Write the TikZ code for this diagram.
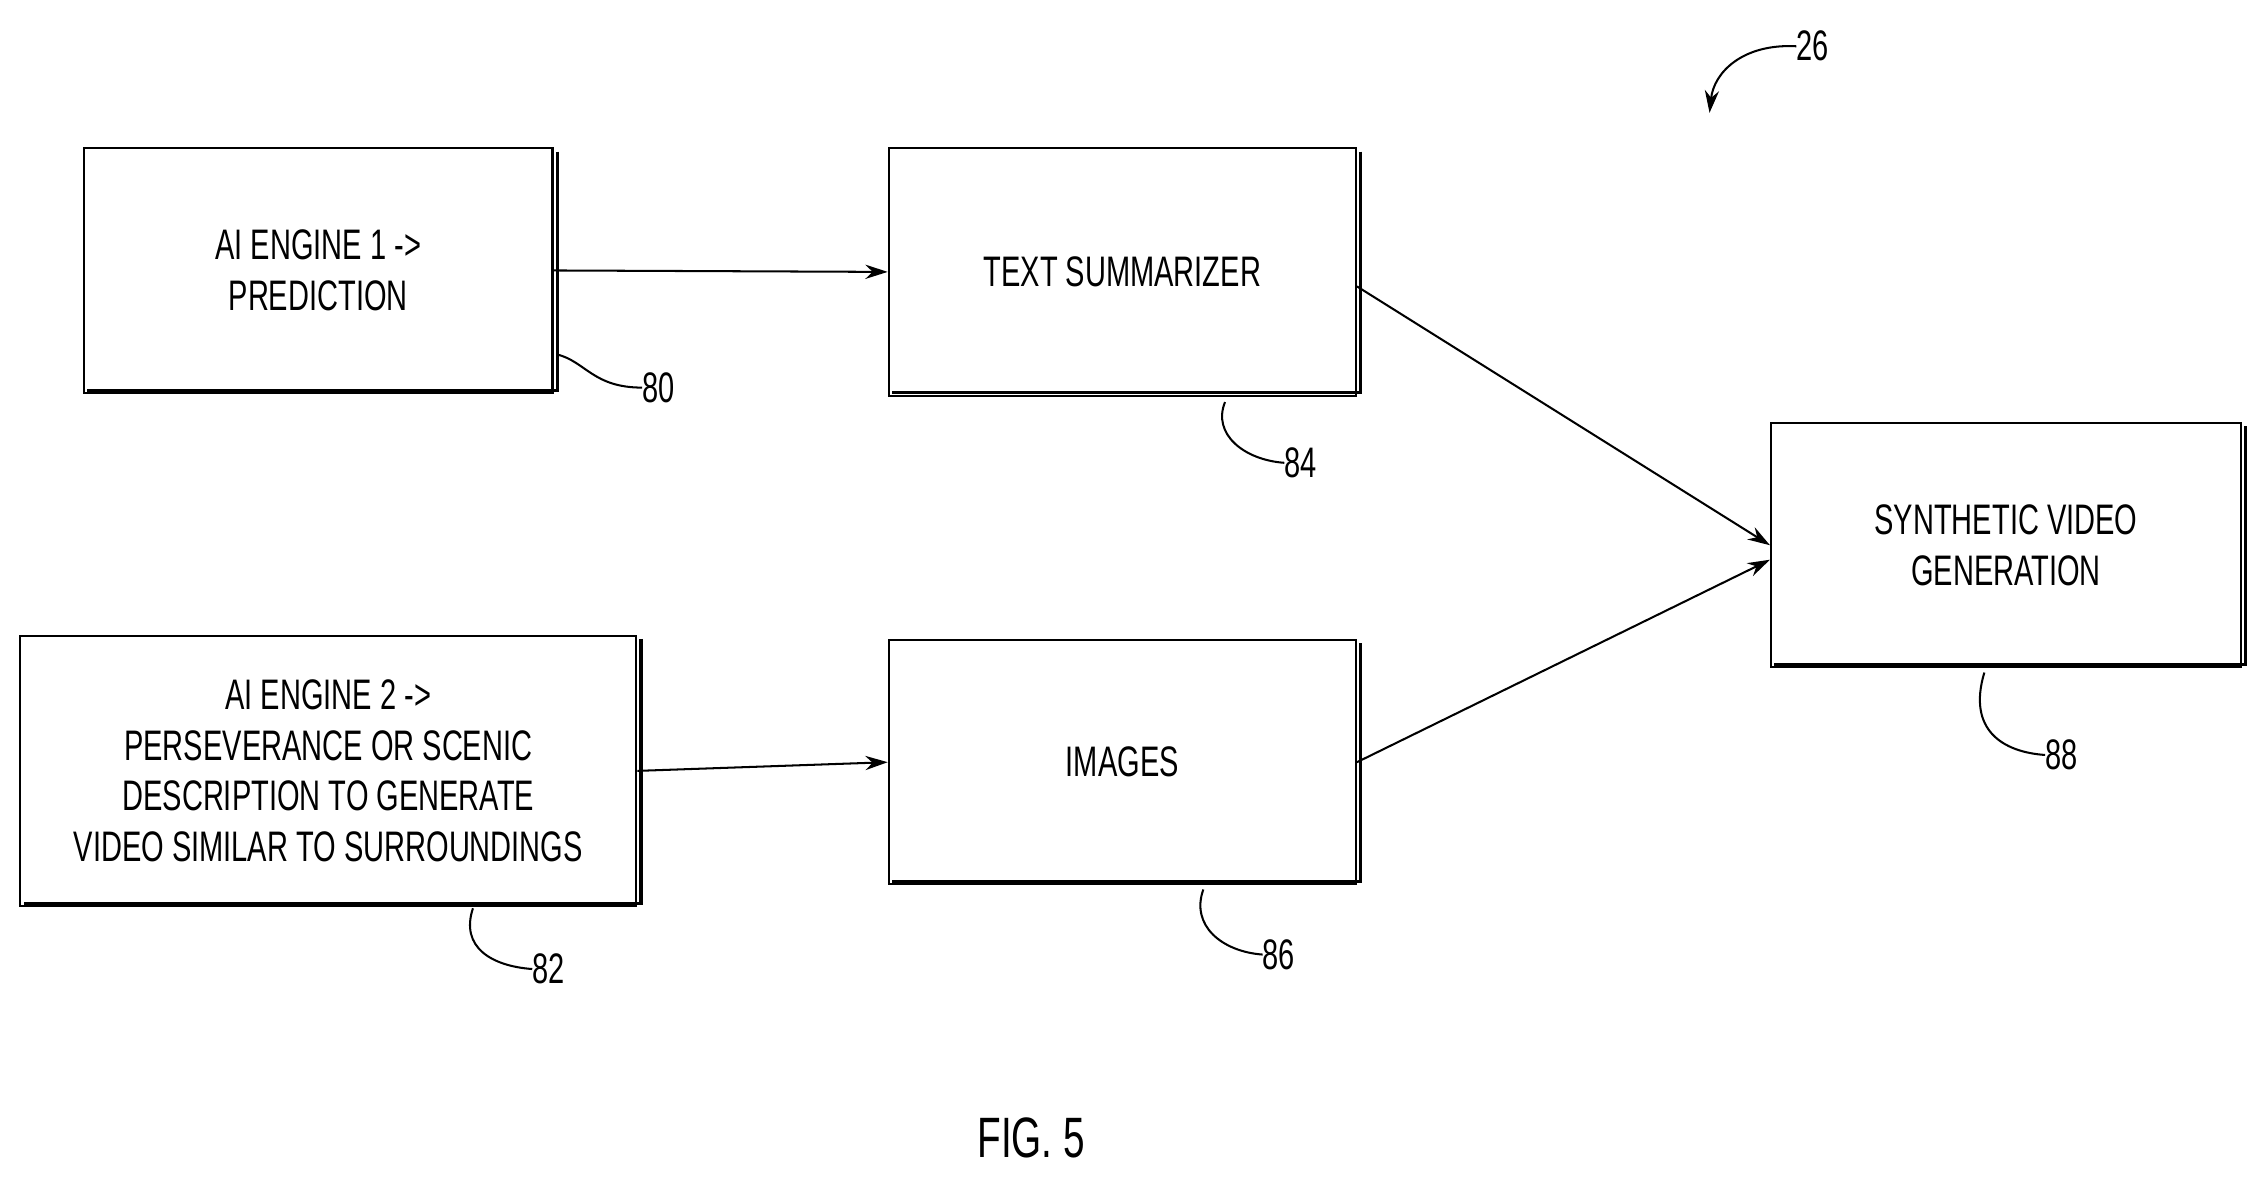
\documentclass[tikz,border=0pt]{standalone}
\usepackage{fontspec}
\setmainfont[FakeStretch=0.68]{Liberation Sans}
\usetikzlibrary{arrows.meta}
\begin{document}
\begin{tikzpicture}[x=0.05cm,y=-0.05cm,
  box/.style={draw,line width=2pt,inner sep=0pt,align=center,font=\fontsize{42}{50}\selectfont},
  arr/.style={line width=2pt,-{Stealth[length=22pt,width=14pt]}},
  lead/.style={line width=2pt},
  num/.style={font=\fontsize{42}{50}\selectfont,anchor=west,inner sep=0pt}]
\useasboundingbox (0,0) rectangle (1564,818);
\node[box,minimum width=324*0.05cm,minimum height=169*0.05cm] (a) at (220,187) {AI ENGINE 1 ->\\PREDICTION};
\node[box,minimum width=323*0.05cm,minimum height=171*0.05cm] (t) at (776,188) {TEXT SUMMARIZER};
\node[box,minimum width=325*0.05cm,minimum height=169*0.05cm] (s) at (1387,377) {SYNTHETIC VIDEO\\GENERATION};
\node[box,minimum width=426*0.05cm,minimum height=187*0.05cm] (b) at (227,533) {AI ENGINE 2 ->\\PERSEVERANCE OR SCENIC\\DESCRIPTION TO GENERATE\\VIDEO SIMILAR TO SURROUNDINGS};
\node[box,minimum width=323*0.05cm,minimum height=169*0.05cm] (i) at (776,527) {IMAGES};
\foreach \n in {a,t,s,b,i}{
  \draw[line width=3pt] ([shift={(2.5,3)}]\n.north east) -- ([shift={(2.5,-2.5)}]\n.south east) -- ([shift={(3,-2.5)}]\n.south west);
}
\draw[arr] (a.east) -- (t.west);
\draw[arr] (b.east) -- (i.west);
\draw[arr] ([yshift=-0.5cm]t.east) -- ([yshift=0cm]s.west);
\draw[arr] ([yshift=0cm]i.east) -- ([yshift=-0.5cm]s.west);
\coordinate (l80) at (385,245); \node[num] (n80) at (444,268) {80};
\draw[lead] (l80) .. controls (405,250) and (410,268) .. (n80.west);
\coordinate (l84) at (847,278); \node[num] (n84) at (888,320) {84};
\draw[lead] (l84) .. controls (838,300) and (860,318) .. (n84.west);
\coordinate (l86) at (832,615); \node[num] (n86) at (873,660) {86};
\draw[lead] (l86) .. controls (823,640) and (845,658) .. (n86.west);
\coordinate (l82) at (327,628); \node[num] (n82) at (368,670) {82};
\draw[lead] (l82) .. controls (318,655) and (340,668) .. (n82.west);
\coordinate (l88) at (1372,465); \node[num] (n88) at (1414,522) {88};
\draw[lead] (l88) .. controls (1360,505) and (1385,520) .. (n88.west);
\node[num] (n26) at (1242,32) {26};
\coordinate (e26) at (1182,78);
\draw[arr] (n26.west) .. controls (1205,30) and (1185,50) .. (e26);
\node[font=\fontsize{56}{64}\selectfont] (fig) at (713,787) {FIG. 5};
\end{tikzpicture}
\end{document}
